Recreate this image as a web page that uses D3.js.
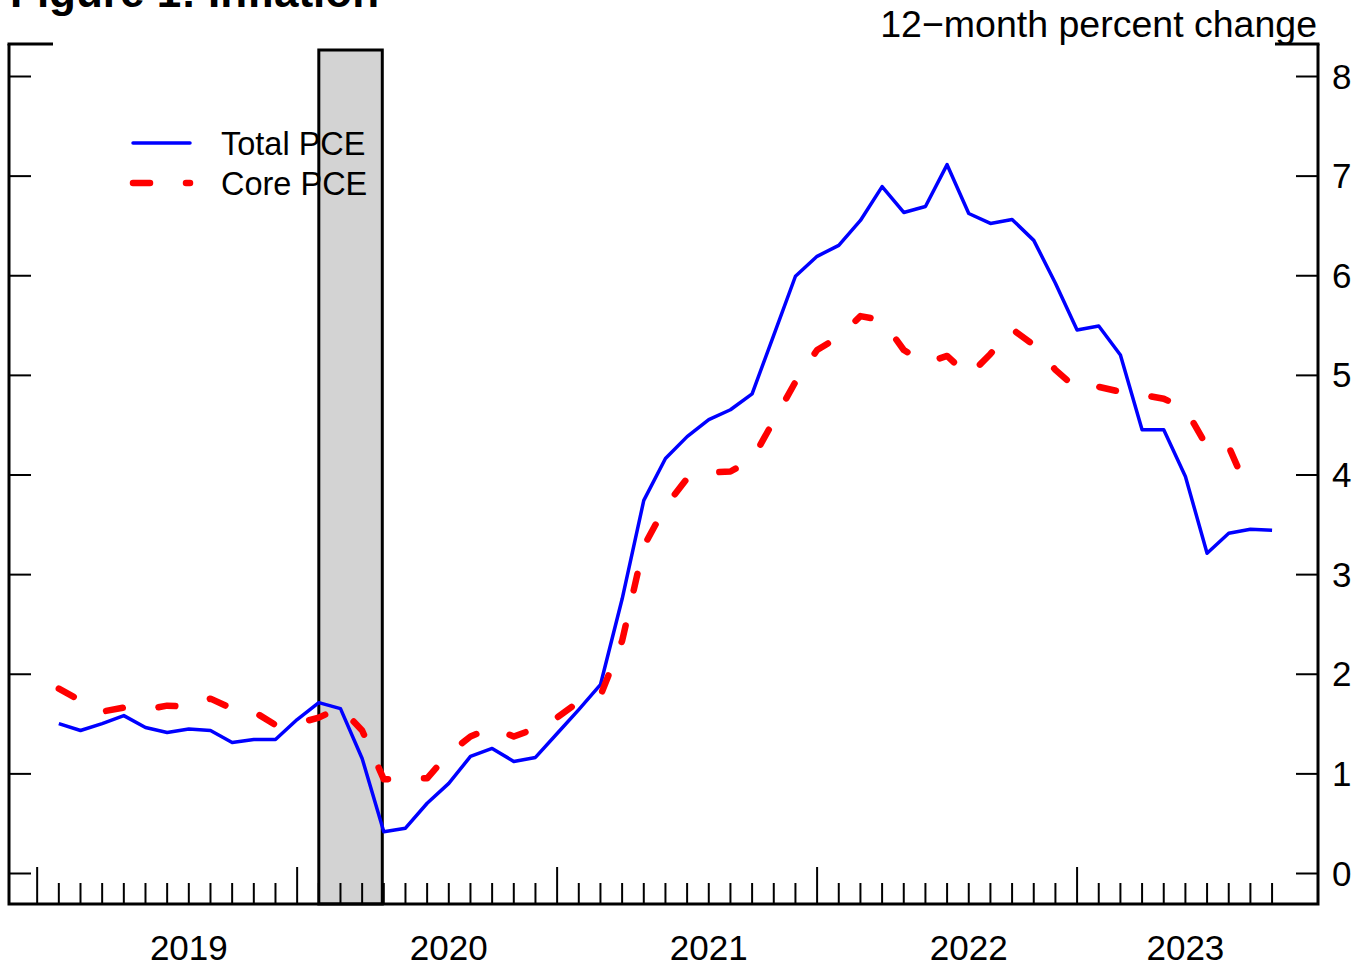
<!DOCTYPE html>
<html>
<head>
<meta charset="utf-8">
<script src="https://cdn.jsdelivr.net/npm/d3@7"></script>
<style>
  body { margin: 0; background: #ffffff; }
  svg { display: block; font-family: "Liberation Sans", Arial, Helvetica, sans-serif; }
</style>
</head>
<body>
<div id="chart"></div>
<script>
// Monthly values, January 2019 onward (month index 1 = Jan 2019, 0 = Dec 2018)
const firstMonth = 1;

const totalPCE = [
  1.50, 1.43, 1.50, 1.58, 1.46, 1.41, 1.445, 1.43, 1.31, 1.34, 1.34, 1.54,
  1.71, 1.65, 1.15, 0.415, 0.45, 0.70, 0.90, 1.17, 1.25, 1.12, 1.16, 1.40,
  1.64, 1.89, 2.75, 3.74, 4.16, 4.38, 4.55, 4.65, 4.81, 5.40, 5.99, 6.19,
  6.30, 6.55, 6.89, 6.63, 6.69, 7.11, 6.62, 6.52, 6.56, 6.35, 5.92, 5.45,
  5.49, 5.20, 4.45, 4.45, 3.98, 3.21, 3.41, 3.45, 3.44
];

const corePCE = [
  1.85, 1.73, 1.62, 1.66, 1.64, 1.68, 1.67, 1.75, 1.65, 1.62, 1.485, 1.50,
  1.56, 1.66, 1.43, 0.94, 0.95, 0.95, 1.20, 1.37, 1.46, 1.37, 1.45, 1.56,
  1.72, 1.78, 2.33, 3.28, 3.68, 3.96, 4.02, 4.03, 4.15, 4.54, 4.93, 5.25,
  5.38, 5.59, 5.55, 5.25, 5.12, 5.19, 4.99, 5.21, 5.46, 5.30, 5.05, 4.86,
  4.88, 4.83, 4.80, 4.76, 4.66, 4.28, 4.28, 3.78
];

// Recession shading (month indices: Jan 2020 to Apr 2020)
const recession = [13, 15.93];

// x-axis: year labels and the month index each is centred on
const yearLabels = ["2019", "2020", "2021", "2022", "2023"];
const yearCenters = [7, 19, 31, 43, 53];
const majorTicks = [0, 12, 24, 36, 48];
const lastTick = 57;

const yTicks = [0, 1, 2, 3, 4, 5, 6, 7, 8];

const seriesNames = ["Total PCE", "Core PCE"];

function renderChart() {
  const W = 1356, H = 967;
  const frame = { left: 9, right: 1318, top: 44, bottom: 904 };

  const svg = d3.select("#chart")
    .append("svg")
    .attr("width", W)
    .attr("height", H);

  // Scales
  const x = d3.scaleLinear()
    .domain([-1.3, 59.12])
    .range([frame.left, frame.right]);

  const y = d3.scaleLinear()
    .domain([0, 8])
    .range([873, 76]);

  // Recession bar
  svg.append("rect")
    .attr("x", x(recession[0]))
    .attr("y", 50)
    .attr("width", x(recession[1]) - x(recession[0]))
    .attr("height", frame.bottom - 50)
    .attr("fill", "#d3d3d3")
    .attr("stroke", "#000")
    .attr("stroke-width", 3);

  // Month ticks along the bottom, longer at year ends
  const monthIdx = d3.range(0, lastTick + 1);
  svg.append("g")
    .selectAll("line")
    .data(monthIdx)
    .join("line")
    .attr("x1", d => x(d))
    .attr("x2", d => x(d))
    .attr("y1", d => majorTicks.includes(d) ? 867 : 883)
    .attr("y2", frame.bottom)
    .attr("stroke", "#000")
    .attr("stroke-width", 2);

  // Right axis ticks and labels, left axis ticks
  const yAxisR = d3.axisLeft(y).tickValues(yTicks).tickSize(22).tickFormat("");
  const yAxisL = d3.axisRight(y).tickValues(yTicks).tickSize(22).tickFormat("");

  svg.append("g")
    .attr("transform", `translate(${frame.right},0)`)
    .call(yAxisR)
    .call(g => g.select(".domain").remove())
    .selectAll("line").attr("stroke", "#000").attr("stroke-width", 2);

  svg.append("g")
    .attr("transform", `translate(${frame.left},0)`)
    .call(yAxisL)
    .call(g => g.select(".domain").remove())
    .selectAll("line").attr("stroke", "#000").attr("stroke-width", 2);

  svg.append("g")
    .selectAll("text")
    .data(yTicks)
    .join("text")
    .attr("x", 1332)
    .attr("y", d => y(d) + 12.5)
    .style("font-size", "35px")
    .style("fill", "#000")
    .text(d => d);

  // Year labels
  svg.append("g")
    .selectAll("text")
    .data(yearLabels)
    .join("text")
    .attr("x", (d, i) => x(yearCenters[i]))
    .attr("y", 960)
    .style("font-size", "35px")
    .style("text-anchor", "middle")
    .style("fill", "#000")
    .text(d => d);

  // Lines
  const line = d3.line()
    .x((d, i) => x(firstMonth + i))
    .y(d => y(d));

  svg.append("path")
    .datum(totalPCE)
    .attr("fill", "none")
    .attr("stroke", "#0000ff")
    .attr("stroke-width", 3.5)
    .attr("stroke-linejoin", "round")
    .attr("d", line);

  svg.append("path")
    .datum(corePCE)
    .attr("fill", "none")
    .attr("stroke", "#ff0000")
    .attr("stroke-width", 6.5)
    .attr("stroke-linecap", "round")
    .attr("stroke-linejoin", "round")
    .attr("stroke-dasharray", "17,36")
    .attr("d", line);

  // Legend
  const legendY = [143, 183];
  const legendStyle = [
    { color: "#0000ff", width: 3.5, dash: null },
    { color: "#ff0000", width: 6.5, dash: "17,36" }
  ];
  seriesNames.forEach((name, i) => {
    svg.append("line")
      .attr("x1", 133).attr("x2", 190)
      .attr("y1", legendY[i]).attr("y2", legendY[i])
      .attr("stroke", legendStyle[i].color)
      .attr("stroke-width", legendStyle[i].width)
      .attr("stroke-linecap", "round")
      .attr("stroke-dasharray", legendStyle[i].dash);
    svg.append("text")
      .attr("x", 221)
      .attr("y", legendY[i] + 12)
      .style("font-size", "32.5px")
      .style("fill", "#000")
      .text(name);
  });

  // Frame (top only at the corners)
  const frameColor = "#000";
  svg.append("path")
    .attr("d", `M${frame.left},${frame.top}V${frame.bottom}H${frame.right}V${frame.top}`)
    .attr("fill", "none")
    .attr("stroke", frameColor)
    .attr("stroke-width", 3);
  svg.append("line")
    .attr("x1", frame.left - 1.5).attr("x2", 53)
    .attr("y1", frame.top).attr("y2", frame.top)
    .attr("stroke", frameColor).attr("stroke-width", 3);
  svg.append("line")
    .attr("x1", 1275).attr("x2", frame.right + 1.5)
    .attr("y1", frame.top).attr("y2", frame.top)
    .attr("stroke", frameColor).attr("stroke-width", 3);

  // Titles
  svg.append("text")
    .attr("x", 10)
    .attr("y", 7)
    .style("font-size", "44px")
    .style("font-weight", "bold")
    .style("fill", "#000")
    .text("Figure 1: Inflation");

  svg.append("text")
    .attr("x", 1317)
    .attr("y", 37)
    .style("font-size", "37.5px")
    .style("text-anchor", "end")
    .style("fill", "#000")
    .text("12\u2212month percent change");
}

renderChart();
</script>
</body>
</html>
